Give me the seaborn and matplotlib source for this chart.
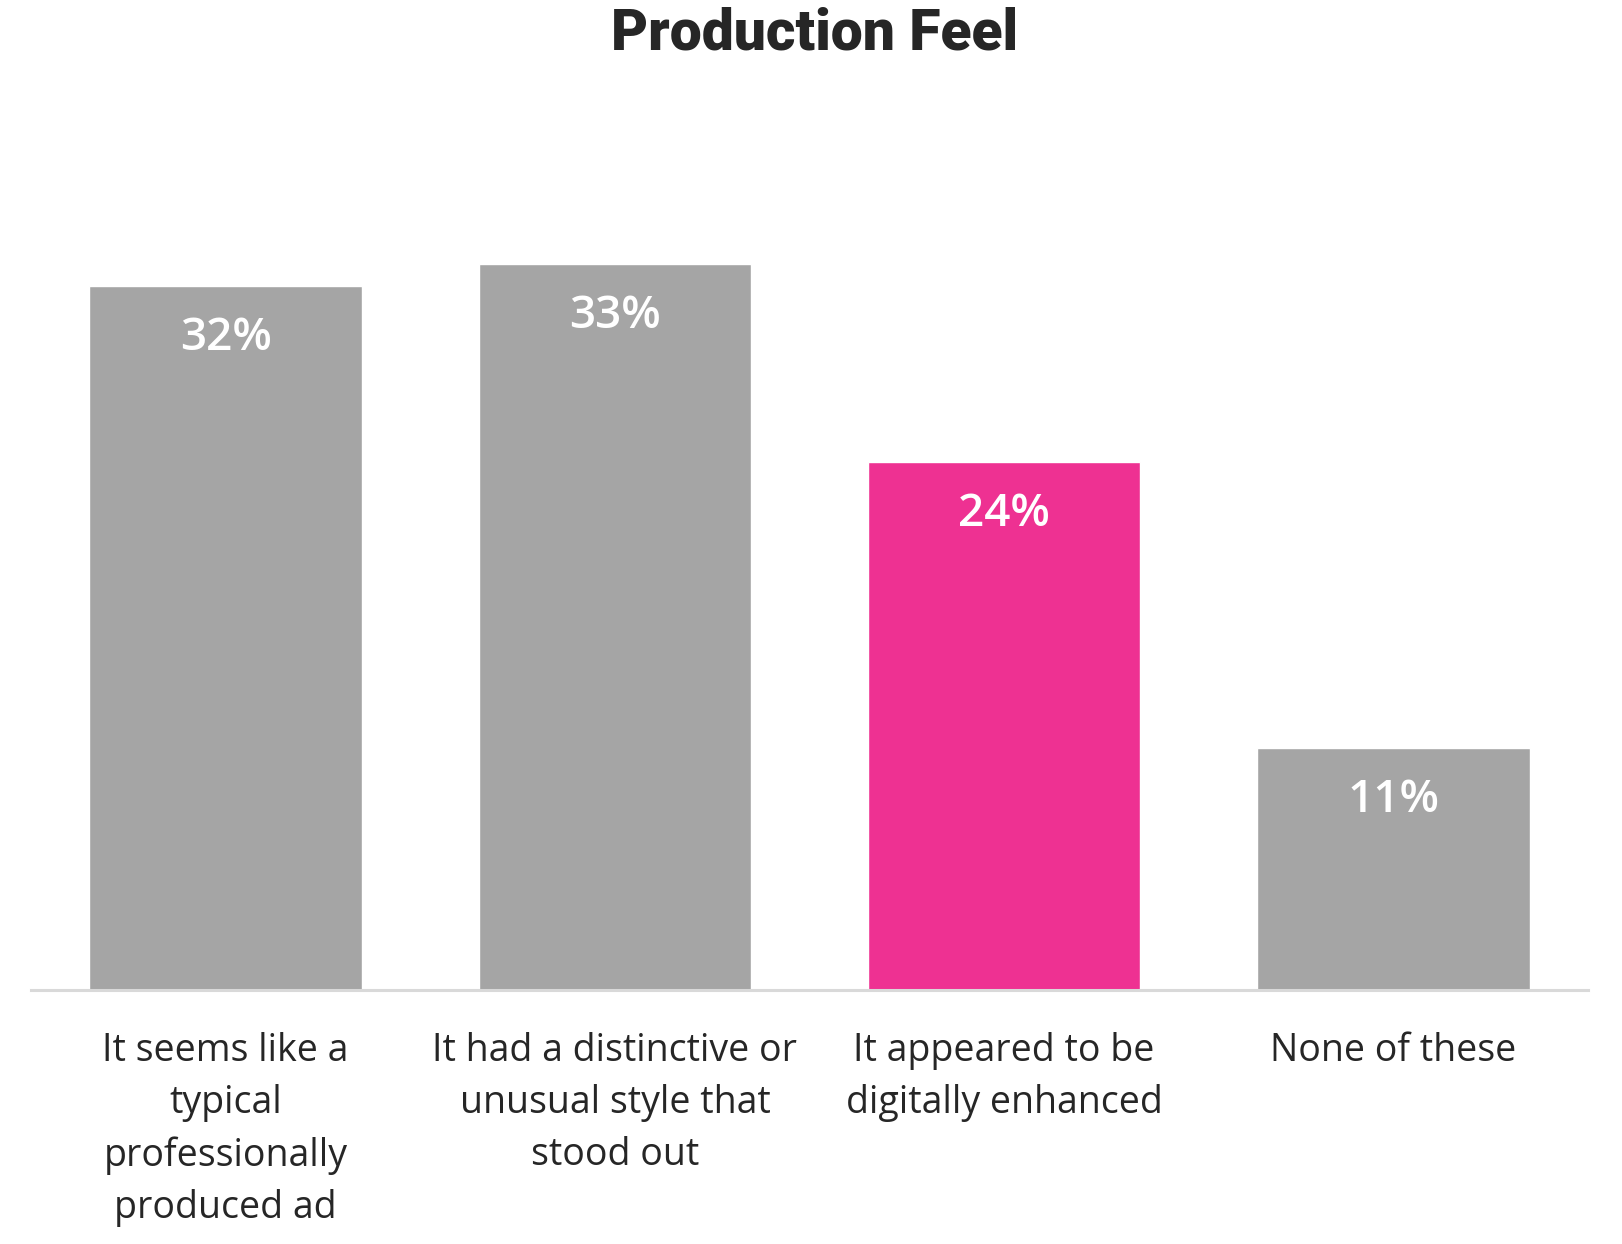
import matplotlib
matplotlib.use('Agg')
import matplotlib.pyplot as plt
import seaborn as sns

# chart data
categories = [
    'It seems like a\ntypical\nprofessionally\nproduced ad',
    'It had a distinctive or\nunusual style that\nstood out',
    'It appeared to be\ndigitally enhanced',
    'None of these',
]
values = [32, 33, 24, 11]
value_labels = ['32%', '33%', '24%', '11%']
bar_colors = ['#A5A5A5', '#A5A5A5', '#EE3192', '#A5A5A5']
title = 'Production Feel'

sns.set_style('white')
plt.rcParams['font.family'] = ['Open Sans', 'DejaVu Sans']

fig = plt.figure(figsize=(16.22, 12.44), dpi=100)
ax = fig.add_axes([0.0191, 0.204, 0.96, 0.7075])

sns.barplot(x=categories, y=values, hue=categories, palette=bar_colors,
            legend=False, width=0.7, saturation=1, ax=ax)

ax.set_ylim(0, 40)
ax.set_xlim(-0.5, 3.5)
ax.set_yticks([])
ax.set_ylabel('')
for s in ['top', 'left', 'right']:
    ax.spines[s].set_visible(False)
ax.spines['bottom'].set_color('#D9D9D9')
ax.spines['bottom'].set_linewidth(2.2)

ax.tick_params(axis='x', length=0, pad=30)
for lbl in ax.get_xticklabels():
    lbl.set_fontsize(27)
    lbl.set_color('#262626')
    lbl.set_linespacing(1.48)

# value labels inside the bars
for i, (v, t) in enumerate(zip(values, value_labels)):
    ax.text(i, v - 2.4, t, ha='center', va='center', color='white',
            fontsize=33, fontweight='semibold')

fig.text(0.5025, 0.973, title, ha='center', va='center', fontsize=41,
         fontweight='black', color='#262626', family=['Roboto', 'DejaVu Sans'])

fig.savefig('out.png', dpi=100, facecolor='white')
